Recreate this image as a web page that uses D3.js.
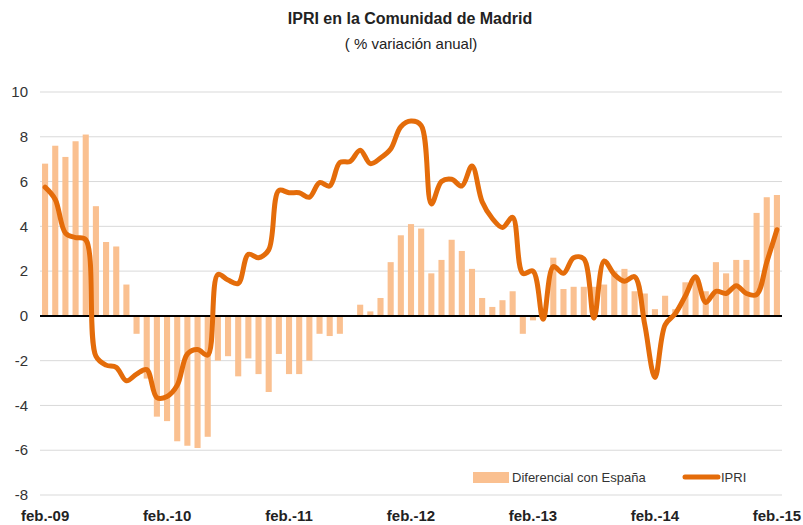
<!DOCTYPE html>
<html>
<head>
<meta charset="utf-8">
<script src="https://cdn.jsdelivr.net/npm/d3@7"></script>
<style>
  html, body { margin: 0; padding: 0; background: #fff; }
  svg { display: block; font-family: "Liberation Sans", Arial, sans-serif; }
</style>
</head>
<body>
<svg id="chart" width="803" height="525"></svg>
<script>
const months = [];
const monthNames = ["ene","feb","mar","abr","may","jun","jul","ago","sep","oct","nov","dic"];
for (let i = 0; i < 73; i++) {
  const m = (1 + i) % 12;
  const yr = 9 + Math.floor((1 + i) / 12);
  months.push(monthNames[m] + ".-" + String(yr).padStart(2, "0"));
}
const tickLabels = ["feb.-09","feb.-10","feb.-11","feb.-12","feb.-13","feb.-14","feb.-15"];
const yTicks = [-8,-6,-4,-2,0,2,4,6,8,10];

const diferencial = [
  6.8, 7.6, 7.1, 7.8, 8.1, 4.9, 3.3, 3.1, 1.4, -0.8, -2.8, -4.5,
  -4.7, -5.6, -5.8, -5.9, -5.4, -2.0, -1.8, -2.7, -1.9, -2.6, -3.4, -1.7,
  -2.6, -2.6, -2.0, -0.8, -0.9, -0.8, 0.0, 0.5, 0.2, 0.8, 2.4, 3.6,
  4.1, 3.9, 1.9, 2.5, 3.4, 2.9, 2.1, 0.8, 0.4, 0.7, 1.1, -0.8,
  -0.2, 0.2, 2.6, 1.2, 1.3, 1.3, 1.3, 1.4, 2.0, 2.1, 1.1, 1.0,
  0.3, 0.9, 0.3, 1.5, 1.6, 1.1, 2.4, 1.9, 2.5, 2.5, 4.6, 5.3,
  5.4
];
const ipri = [
  5.75, 5.2, 3.7, 3.5, 3.4, -1.8, -2.2, -2.3, -2.9, -2.6, -2.4, -3.65,
  -3.6, -3.1, -1.7, -1.5, -1.75, 1.85, 1.6, 1.45, 2.75, 2.6, 2.95, 5.6,
  5.5, 5.5, 5.3, 5.95, 5.8, 6.85, 6.9, 7.4, 6.8, 7.05, 7.45, 8.45,
  8.7, 8.5, 5.0, 6.0, 6.1, 5.8, 6.7, 5.1, 4.35, 3.95, 4.4, 1.9,
  2.0, -0.15, 2.2, 1.9, 2.6, 2.55, -0.1, 2.45, 1.85, 1.55, 1.75, -0.4,
  -2.75, -0.4, 0.1, 0.9, 1.75, 0.6, 1.1, 1.0, 1.35, 1.0, 0.95, 2.4,
  3.85
];

const barColor = "#FAC090";
const lineColor = "#E46C0A";

const svg = d3.select("#chart");
const plotLeft = 40, plotRight = 782, plotTop = 92, plotBottom = 495;

const x = d3.scaleBand().domain(months).range([plotLeft, plotRight]).paddingInner(0.4).paddingOuter(0.2);
const y = d3.scaleLinear().domain([-8, 10]).range([plotBottom, plotTop]);

// gridlines
svg.append("g").selectAll("line").data(yTicks.filter(d => d !== 0)).join("line")
  .attr("x1", plotLeft).attr("x2", plotRight)
  .attr("y1", d => y(d)).attr("y2", d => y(d))
  .attr("stroke", "#D9D9D9").attr("stroke-width", 1);

// y tick labels
svg.append("g").selectAll("text").data(yTicks).join("text")
  .attr("x", 28).attr("y", d => y(d)).attr("dy", "0.35em")
  .attr("text-anchor", "end").attr("font-size", 15).attr("fill", "#333")
  .text(d => d);

// bars
svg.append("g").selectAll("rect").data(diferencial).join("rect")
  .attr("x", (d, i) => x(months[i]))
  .attr("width", x.bandwidth())
  .attr("y", d => y(Math.max(0, d)))
  .attr("height", d => Math.abs(y(d) - y(0)))
  .attr("fill", barColor);

// zero line
svg.append("line").attr("x1", plotLeft).attr("x2", plotRight)
  .attr("y1", y(0)).attr("y2", y(0)).attr("stroke", "#000").attr("stroke-width", 2);

// IPRI line
const line = d3.line()
  .x((d, i) => x(months[i]) + x.bandwidth() / 2)
  .y(d => y(d))
  .curve(d3.curveCatmullRom.alpha(0.5));
svg.append("path").datum(ipri).attr("d", line)
  .attr("fill", "none").attr("stroke", lineColor).attr("stroke-width", 5)
  .attr("stroke-linejoin", "round").attr("stroke-linecap", "round");

// x labels
svg.append("g").selectAll("text").data(tickLabels).join("text")
  .attr("x", d => x(d) + x.bandwidth() / 2).attr("y", 521)
  .attr("text-anchor", "middle").attr("font-size", 15).attr("font-weight", "bold").attr("fill", "#222")
  .text(d => d);

// title
svg.append("text").attr("x", 410).attr("y", 24).attr("text-anchor", "middle")
  .attr("font-size", 16).attr("font-weight", "bold").attr("fill", "#222")
  .text("IPRI en la Comunidad de Madrid");
svg.append("text").attr("x", 411).attr("y", 49).attr("text-anchor", "middle")
  .attr("font-size", 15).attr("fill", "#222")
  .text("( % variación anual)");

// legend
const lg = svg.append("g");
lg.append("rect").attr("x", 473).attr("y", 472).attr("width", 36).attr("height", 11).attr("fill", barColor);
lg.append("text").attr("x", 512).attr("y", 482).attr("font-size", 13).attr("fill", "#333")
  .text("Diferencial con España");
lg.append("line").attr("x1", 685).attr("x2", 718).attr("y1", 477).attr("y2", 477)
  .attr("stroke", lineColor).attr("stroke-width", 5).attr("stroke-linecap", "round");
lg.append("text").attr("x", 721).attr("y", 482).attr("font-size", 13).attr("fill", "#333")
  .text("IPRI");
</script>
</body>
</html>
